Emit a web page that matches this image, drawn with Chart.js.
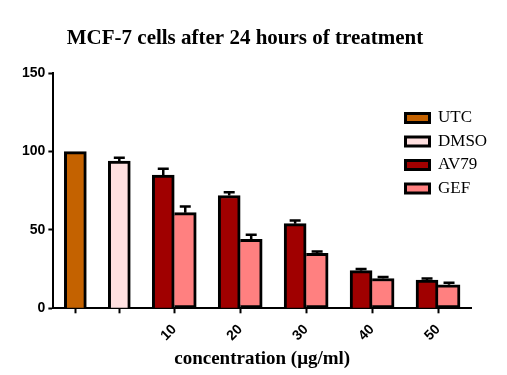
<!DOCTYPE html>
<html>
<head>
<meta charset="utf-8">
<script src="https://cdn.jsdelivr.net/npm/chart.js@4.4.1/dist/chart.umd.min.js"></script>
<style>
  html, body { margin: 0; padding: 0; background: #fff; }
  #wrap { width: 507px; height: 375px; }
</style>
</head>
<body>
<div id="wrap"><canvas id="chart"></canvas></div>
<script>
const categories = ['', '', '10', '20', '30', '40', '50'];
const utc  = [100, null, null, null, null, null, null];
const dmso = [null, 94, null, null, null, null, null];
const av79 = [null, null, 85, 72, 54, 24, 18];
const gef  = [null, null, 61, 44, 35, 19, 15];
const dmsoErr = [null, 2, null, null, null, null, null];
const av79Err = [null, null, 4, 2, 2, 1, 1];
const gefErr  = [null, null, 4, 3, 1.3, 1, 1.3];
const yTicks = [0, 50, 100, 150];

const series = [utc, dmso, av79, gef];

// group centres on a linear axis, one unit per bar and one unit of gap between groups
const counts = categories.map((_, i) => series.filter(s => s[i] != null).length);
const xPos = [];
counts.forEach((n, i) => {
  xPos.push(i === 0 ? 0 : xPos[i - 1] + counts[i - 1] / 2 + 1 + n / 2);
});
const pts = arr => xPos.map((x, i) => ({ x, y: arr[i] }));

const errorBars = {
  id: 'errorBars',
  afterDatasetsDraw(chart) {
    const { ctx } = chart;
    const y = chart.scales.y;
    chart.data.datasets.forEach((ds, di) => {
      const meta = chart.getDatasetMeta(di);
      if (!ds.errors || meta.hidden) return;
      ctx.save();
      ctx.strokeStyle = '#000';
      ctx.lineWidth = 2.5;
      meta.data.forEach((bar, i) => {
        const e = ds.errors[i], v = ds.data[i].y;
        if (e == null || v == null) return;
        const top = y.getPixelForValue(v + e);
        const half = bar.width / 4;
        ctx.beginPath();
        ctx.moveTo(bar.x, bar.y);
        ctx.lineTo(bar.x, top);
        ctx.moveTo(bar.x - half, top);
        ctx.lineTo(bar.x + half, top);
        ctx.stroke();
      });
      ctx.restore();
    });
  }
};

// legend sits inside the plot, upper right
const legendSpot = {
  id: 'legendSpot',
  afterLayout(chart, args, opts) {
    const lg = chart.legend;
    if (!lg) return;
    lg.left = opts.x; lg.right = opts.x + lg.width;
    lg.top = opts.y; lg.bottom = opts.y + lg.height;
  }
};

const barBase = { borderColor: '#000', borderWidth: 3, barThickness: 22 };

new Chart(document.getElementById('chart'), {
  type: 'bar',
  data: {
    datasets: [
      { ...barBase, label: 'UTC',  data: pts(utc),  backgroundColor: '#C46200' },
      { ...barBase, label: 'DMSO', data: pts(dmso), backgroundColor: '#FFE0E0', errors: dmsoErr },
      { ...barBase, label: 'AV79', data: pts(av79), backgroundColor: '#A00000', errors: av79Err },
      { ...barBase, label: 'GEF',  data: pts(gef),  backgroundColor: '#FF8080', errors: gefErr, borderSkipped: 'left' }
    ]
  },
  options: {
    responsive: true,
    maintainAspectRatio: false,
    animation: false,
    skipNull: true,
    layout: { padding: { left: 19, right: 36, top: 0, bottom: 0 } },
    plugins: {
      tooltip: { enabled: false },
      title: {
        display: true,
        text: 'MCF-7 cells after 24 hours of treatment',
        color: '#000',
        font: { family: 'Liberation Serif', size: 21, weight: 'bold' },
        padding: { top: 26, bottom: 22 }
      },
      legend: {
        position: 'chartArea',
        align: 'start',
        labels: {
          color: '#000',
          boxWidth: 24,
          boxHeight: 9,
          padding: 6.5,
          font: { family: 'Liberation Serif', size: 17 }
        }
      },
      legendSpot: { x: 399, y: 103 }
    },
    scales: {
      x: {
        type: 'linear',
        offset: false,
        min: xPos[0] - 1,
        max: xPos[xPos.length - 1] + 1.5,
        afterBuildTicks: axis => { axis.ticks = xPos.map(v => ({ value: v })); },
        ticks: {
          autoSkip: false,
          minRotation: 45,
          maxRotation: 45,
          padding: 8,
          color: '#000',
          font: { family: 'Liberation Sans', size: 14, weight: 'bold' },
          callback: (v, i) => categories[i]
        },
        grid: { offset: false, drawOnChartArea: false, drawTicks: true, tickLength: 5, tickWidth: 2, tickColor: '#000' },
        border: { display: true, color: '#000', width: 2 },
        title: {
          display: true,
          text: 'concentration (μg/ml)',
          color: '#000',
          font: { family: 'Liberation Serif', size: 19, weight: 'bold' },
          padding: { top: -5, bottom: 5 }
        }
      },
      y: {
        min: 0,
        max: 150,
        afterBuildTicks: axis => { axis.ticks = yTicks.map(v => ({ value: v })); },
        ticks: {
          padding: 3,
          color: '#000',
          font: { family: 'Liberation Sans', size: 14, weight: 'bold' }
        },
        grid: { drawOnChartArea: false, drawTicks: true, tickLength: 5, tickWidth: 2, tickColor: '#000' },
        border: { display: true, color: '#000', width: 2 }
      }
    }
  },
  plugins: [errorBars, legendSpot]
});
</script>
</body>
</html>
